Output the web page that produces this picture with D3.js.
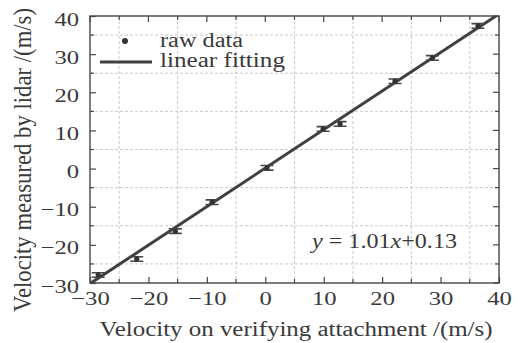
<!DOCTYPE html>
<html>
<head>
<meta charset="utf-8">
<script src="https://cdn.jsdelivr.net/npm/d3@7"></script>
</head>
<body style="margin:0; background:#fff">
<div id="chart"></div>
<script>
// data
let refVelocity = [-28.6, -22.0, -15.4, -9.1, 0.3, 9.9, 12.8, 22.2, 28.6, 36.4];
let lidarVelocity = [-27.9, -23.7, -16.4, -8.8, 0.2, 10.4, 11.7, 22.9, 29.0, 37.4];
let errorBars = [0.6, 0.6, 0.6, 0.6, 0.6, 0.6, 0.6, 0.6, 0.6, 0.6];
let fitSlope = 1.01, fitIntercept = 0.13;
let xTickLabels = [-30, -20, -10, 0, 10, 20, 30, 40];
let yTickLabels = [-30, -20, -10, 0, 10, 20, 30, 40];
let minorTicks = [-25, -15, -5, 5, 15, 25, 35];

let width = 527, height = 343;
// plot box (window.top is taken, so prefixed names)
let pLeft = 90, pRight = 499, pTop = 16, pBottom = 283;
let stretch = 1.3;
let ink = "#474747";
let textInk = "#3a3a3a";
let serif = "Liberation Serif";

let svg = d3.select("#chart").append("svg")
  .attr("width", width)
  .attr("height", height)
  .attr("font-family", serif);

let x = d3.scaleLinear().domain([-30, 40]).range([pLeft, pRight]);
let y = d3.scaleLinear().domain([-30, 40]).range([pBottom, pTop]);

svg.append("clipPath").attr("id", "plotclip")
  .append("rect").attr("x", pLeft).attr("y", pTop)
  .attr("width", pRight - pLeft).attr("height", pBottom - pTop);

// dashed grid at the minor positions
let grid = svg.append("g").attr("stroke", "#bdbdbd").attr("stroke-width", 0.8)
  .attr("stroke-dasharray", "3,2");
grid.selectAll(".gx").data(minorTicks).enter().append("line")
  .attr("x1", d => x(d)).attr("x2", d => x(d))
  .attr("y1", pTop).attr("y2", pBottom);
grid.selectAll(".gy").data(minorTicks).enter().append("line")
  .attr("y1", d => y(d)).attr("y2", d => y(d))
  .attr("x1", pLeft).attr("x2", pRight);

// axes, ticks pointing inwards
function styleAxis(g) {
  g.select(".domain").remove();
  g.attr("font-family", serif);
  g.selectAll("line").attr("stroke", ink).attr("stroke-width", 1.2);
  g.selectAll("text").attr("font-family", serif).attr("font-size", 19)
    .attr("fill", textInk).attr("transform", `scale(${stretch},1)`);
}
let allTicks = xTickLabels.concat(minorTicks);
let isMajor = d => xTickLabels.indexOf(d) >= 0;

let xb = svg.append("g").attr("transform", `translate(0,${pBottom})`)
  .call(d3.axisBottom(x).tickValues(xTickLabels).tickSizeInner(-6).tickSizeOuter(0).tickPadding(9));
xb.call(styleAxis);

let yl = svg.append("g").attr("transform", `translate(${pLeft},0)`)
  .call(d3.axisLeft(y).tickValues(yTickLabels).tickSizeInner(-6).tickSizeOuter(0).tickPadding(8.4));
yl.call(styleAxis);
yl.selectAll("text").attr("y", 3);

// minor ticks and the ticks on top and right
function tickMarks(values, side) {
  let horiz = side == "top" || side == "bottom";
  let len = d => isMajor(d) ? 6 : 4;
  svg.append("g").selectAll("line").data(values).enter().append("line")
    .attr("stroke", ink).attr("stroke-width", 1.2)
    .attr("x1", d => horiz ? x(d) : (side == "left" ? pLeft : pRight))
    .attr("x2", d => horiz ? x(d) : (side == "left" ? pLeft + len(d) : pRight - len(d)))
    .attr("y1", d => !horiz ? y(d) : (side == "top" ? pTop : pBottom))
    .attr("y2", d => !horiz ? y(d) : (side == "top" ? pTop + len(d) : pBottom - len(d)));
}
tickMarks(minorTicks, "bottom");
tickMarks(minorTicks, "left");
tickMarks(allTicks, "top");
tickMarks(allTicks, "right");

// frame
svg.append("rect").attr("x", pLeft).attr("y", pTop)
  .attr("width", pRight - pLeft).attr("height", pBottom - pTop)
  .attr("fill", "none").attr("stroke", ink).attr("stroke-width", 1.4);

// fitted line
let fitX = [-30, 40];
svg.append("path")
  .datum(fitX)
  .attr("clip-path", "url(#plotclip)")
  .attr("fill", "none").attr("stroke", "#404040").attr("stroke-width", 3)
  .attr("d", d3.line().x(d => x(d)).y(d => y(fitSlope * d + fitIntercept)));

// raw data with error bars
let pts = refVelocity.map((v, i) => ({ x: v, y: lidarVelocity[i], e: errorBars[i] }));
let cap = 6.5;
let marks = svg.append("g").attr("stroke", ink).attr("stroke-width", 1.6);
marks.selectAll(".eb").data(pts).enter().append("path")
  .attr("fill", "none")
  .attr("d", d => {
    let cx = x(d.x), y0 = y(d.y - d.e), y1 = y(d.y + d.e);
    return `M${cx - cap},${y0}H${cx + cap}M${cx - cap},${y1}H${cx + cap}M${cx},${y0}V${y1}`;
  });
svg.selectAll(".pt").data(pts).enter().append("circle")
  .attr("cx", d => x(d.x)).attr("cy", d => y(d.y)).attr("r", 2.6)
  .attr("fill", "#333");

// legend
svg.append("circle").attr("cx", 125).attr("cy", 41).attr("r", 3).attr("fill", "#333");
svg.append("text").attr("x", 160).attr("y", 47).attr("font-size", 20).attr("fill", textInk)
  .attr("textLength", 83).attr("lengthAdjust", "spacingAndGlyphs").text("raw data");
svg.append("line").attr("x1", 100).attr("x2", 152).attr("y1", 62).attr("y2", 62)
  .attr("stroke", "#404040").attr("stroke-width", 3);
svg.append("text").attr("x", 160).attr("y", 67).attr("font-size", 20).attr("fill", textInk)
  .attr("textLength", 125).attr("lengthAdjust", "spacingAndGlyphs").text("linear fitting");

// fit equation
let eq = svg.append("text").attr("x", 312).attr("y", 248).attr("font-size", 21).attr("fill", textInk)
  .attr("textLength", 145).attr("lengthAdjust", "spacingAndGlyphs");
eq.append("tspan").attr("font-style", "italic").text("y");
eq.append("tspan").text(" = 1.01");
eq.append("tspan").attr("font-style", "italic").text("x");
eq.append("tspan").text("+0.13");

// axis titles
svg.append("text").attr("x", 296).attr("y", 336).attr("font-size", 20).attr("fill", textInk)
  .attr("text-anchor", "middle")
  .attr("textLength", 393).attr("lengthAdjust", "spacingAndGlyphs")
  .text("Velocity on verifying attachment /(m/s)");
svg.append("text").attr("font-size", 21).attr("fill", textInk)
  .attr("text-anchor", "middle")
  .attr("transform", `translate(31,160) scale(1.2,1) rotate(-90)`)
  .attr("textLength", 304).attr("lengthAdjust", "spacingAndGlyphs")
  .text("Velocity measured by  lidar /(m/s)");
</script>
</body>
</html>
